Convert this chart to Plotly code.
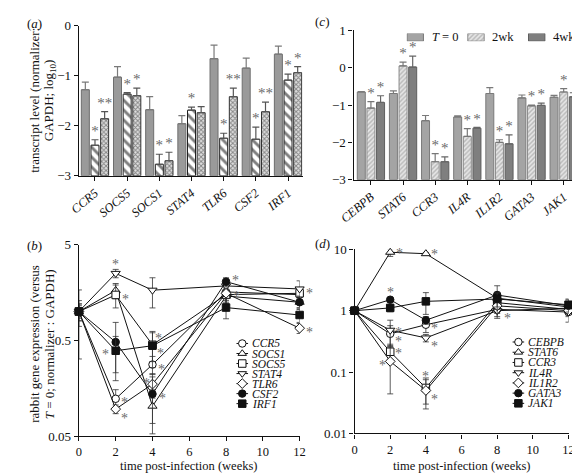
import math
import plotly.graph_objects as go

FONT = "Liberation Serif"
INK = "#111111"
STAR_C = "#6a6a6a"

# ---------------- panel (a) data ----------------
GENES_A = ["CCR5", "SOCS5", "SOCS1", "STAT4", "TLR6", "CSF2", "IRF1"]
A_T0 = [-1.28, -1.03, -1.68, -1.96, -0.66, -0.85, -0.57]
A_T0_ERR = [0.15, 0.21, 0.26, 0.16, 0.27, 0.20, 0.16]
A_2WK = [-2.39, -1.37, -2.77, -1.69, -2.25, -2.27, -1.09]
A_2WK_ERR = [0.11, 0.03, 0.20, 0.06, 0.10, 0.24, 0.12]
A_4WK = [-1.86, -1.40, -2.70, -1.74, -1.42, -1.72, -0.94]
A_4WK_ERR = [0.14, 0.15, 0.17, 0.12, 0.17, 0.19, 0.12]
A_2WK_STARS = ["*", "*", "*", "*", "*", "*", "*"]
A_4WK_STARS = ["**", "*", "*", "", "**", "**", "*"]

# ---------------- panel (c) data ----------------
GENES_C = ["CEBPB", "STAT6", "CCR3", "IL4R", "IL1R2", "GATA3", "JAK1"]
C_T0 = [-0.65, -0.69, -1.42, -1.32, -0.69, -0.81, -0.79]
C_T0_ERR = [0.01, 0.07, 0.14, 0.03, 0.16, 0.08, 0.05]
C_2WK = [-1.08, 0.05, -2.52, -1.84, -2.00, -1.02, -0.65]
C_2WK_ERR = [0.17, 0.10, 0.22, 0.21, 0.07, 0.02, 0.09]
C_4WK = [-0.93, 0.02, -2.52, -1.62, -2.04, -1.01, -0.78]
C_4WK_ERR = [0.18, 0.29, 0.13, 0.02, 0.24, 0.06, 0.11]
C_2WK_STARS = ["*", "*", "*", "*", "*", "*", "*"]
C_4WK_STARS = ["*", "*", "*", "*", "*", "*", ""]
C_LEGEND = ["<i>T</i> = 0", "2wk", "4wk"]

# ---------------- panel (b) data ----------------
WEEKS = [0, 2, 4, 8, 12]
B_GENES = ["CCR5", "SOCS1", "SOCS5", "STAT4", "TLR6", "CSF2", "IRF1"]
B_CCR5 = [1, 0.123, 0.28, 1.60, 1.50]
B_SOCS1 = [1, 1.66, 0.103, 1.45, 1.25]
B_SOCS5 = [1, 1.49, 0.45, 1.50, 1.55]
B_STAT4 = [1, 2.50, 1.67, 1.85, 1.72]
B_TLR6 = [1, 0.096, 0.175, 1.55, 0.67]
B_CSF2 = [1, 0.48, 0.138, 2.05, 1.25]
B_IRF1 = [1, 0.39, 0.44, 1.10, 0.92]
B_CCR5_ERR = [0.30, 0.03, 0.06, 0.30, 0.20]
B_SOCS1_ERR = [0.15, 0.30, 0.05, 0.25, 0.15]
B_SOCS5_ERR = [0.20, 0.40, 0.15, 0.30, 0.20]
B_STAT4_ERR = [0.10, 0.25, 0.58, 0.20, 0.37]
B_TLR6_ERR = [0.10, 0.01, 0.05, 0.30, 0.08]
B_CSF2_ERR = [0.68, 0.29, 0.07, 0.20, 0.20]
B_IRF1_ERR = [0.20, 0.16, 0.18, 0.26, 0.15]

# ---------------- panel (d) data ----------------
D_GENES = ["CEBPB", "STAT6", "CCR3", "IL4R", "IL1R2", "GATA3", "JAK1"]
D_CEBPB = [1, 0.42, 0.59, 1.05, 0.95]
D_STAT6 = [1, 8.97, 8.50, 1.60, 1.15]
D_CCR3 = [1, 0.214, 0.055, 1.35, 1.05]
D_IL4R = [1, 0.48, 0.36, 1.00, 1.10]
D_IL1R2 = [1, 0.149, 0.050, 1.20, 1.00]
D_GATA3 = [1, 1.51, 0.70, 1.80, 1.20]
D_JAK1 = [1, 1.11, 1.42, 1.55, 1.25]
D_CEBPB_ERR = [0.05, 0.15, 0.15, 0.30, 0.30]
D_STAT6_ERR = [0.05, 1.30, 0.40, 0.40, 0.25]
D_CCR3_ERR = [0.05, 0.07, 0.025, 0.30, 0.20]
D_IL4R_ERR = [0.05, 0.22, 0.05, 0.20, 0.20]
D_IL1R2_ERR = [0.05, 0.105, 0.025, 0.30, 0.20]
D_GATA3_ERR = [0.05, 0.10, 0.10, 0.75, 0.30]
D_JAK1_ERR = [0.05, 0.15, 0.55, 0.40, 0.30]

# significance markers: (series index, time index, x shift px, y shift px)
B_STARS = [(3, 1, 0, 11), (2, 1, 10, -3), (6, 1, -10, -2), (0, 1, 9, -2), (4, 1, 9, -7),
           (2, 2, 6, 8), (6, 2, 8, -6), (0, 2, 9, -3), (4, 2, -6, 3), (5, 2, 10, -3),
           (5, 3, 9, 3), (1, 3, 10, 2), (2, 4, 10, 2), (4, 4, 10, -2)]
D_STARS = [(1, 1, 9, 1), (5, 1, 0, 9), (3, 1, 8, 0), (0, 1, 8, -6), (2, 1, 8, 0), (4, 1, -8, -2),
           (1, 2, 9, 1), (0, 2, 9, -2), (3, 2, 9, -7), (2, 2, 0, 13), (4, 2, 9, -7),
           (3, 3, 10, -6)]

B_VALS = [B_CCR5, B_SOCS1, B_SOCS5, B_STAT4, B_TLR6, B_CSF2, B_IRF1]
B_ERRS = [B_CCR5_ERR, B_SOCS1_ERR, B_SOCS5_ERR, B_STAT4_ERR, B_TLR6_ERR, B_CSF2_ERR, B_IRF1_ERR]
D_VALS = [D_CEBPB, D_STAT6, D_CCR3, D_IL4R, D_IL1R2, D_GATA3, D_JAK1]
D_ERRS = [D_CEBPB_ERR, D_STAT6_ERR, D_CCR3_ERR, D_IL4R_ERR, D_IL1R2_ERR, D_GATA3_ERR, D_JAK1_ERR]

SYMBOLS = ["circle", "triangle-up", "square", "triangle-down", "diamond", "circle", "square"]
FILLS = ["white", "white", "white", "white", "white", INK, INK]

fig = go.Figure()

BARGAP = 0.10
BARGROUPGAP = 0.17
SLOT = (1 - BARGAP) / 3
BASE = -3


def add_bar_set(xa, ya, series, errs, markers, err_colors, stars):
    n = len(series[0])
    xs = list(range(n))
    for vals, err, mk, ec in zip(series, errs, markers, err_colors):
        fig.add_trace(go.Bar(
            x=xs, y=[v - BASE for v in vals], base=BASE, marker=mk,
            error_y=dict(type="data", array=err, arrayminus=[0] * n, symmetric=False,
                         color=ec, thickness=1.2, width=3.5),
            xaxis=xa, yaxis=ya, showlegend=False, hoverinfo="skip"))
    for k, st in stars:
        keep = [i for i in xs if st[i]]
        fig.add_trace(go.Scatter(
            x=[i + (k - 1) * SLOT for i in keep],
            y=[series[k][i] + errs[k][i] for i in keep],
            text=[st[i] for i in keep], mode="text", textposition="top center",
            textfont=dict(family=FONT, size=15, color=STAR_C),
            xaxis=xa, yaxis=ya, showlegend=False, cliponaxis=False, hoverinfo="skip"))


# panel (a)
add_bar_set("x", "y", [A_T0, A_2WK, A_4WK], [A_T0_ERR, A_2WK_ERR, A_4WK_ERR],
            [dict(color="#9a9a9a", line=dict(color="#6e6e6e", width=1)),
             dict(color="white", line=dict(color="#222", width=1),
                  pattern=dict(shape="\\", fgcolor="#000", bgcolor="white", size=7, solidity=0.42)),
             dict(color="white", line=dict(color="#333", width=1),
                  pattern=dict(shape="x", fgcolor="#2a2a2a", bgcolor="#e0e0e0", size=3.2, solidity=0.5))],
            ["#7a7a7a", "#555", "#555"],
            [(1, A_2WK_STARS), (2, A_4WK_STARS)])

# panel (c)
C_MARKERS = [dict(color="#a4a4a4", line=dict(color="#7a7a7a", width=1)),
             dict(color="#dcdcdc", line=dict(color="#8a8a8a", width=1),
                  pattern=dict(shape="/", fgcolor="#8c8c8c", bgcolor="#e6e6e6", size=3.2, solidity=0.45)),
             dict(color="#7f7f7f", line=dict(color="#5e5e5e", width=1))]
add_bar_set("x3", "y3", [C_T0, C_2WK, C_4WK], [C_T0_ERR, C_2WK_ERR, C_4WK_ERR],
            C_MARKERS, ["#7a7a7a", "#777", "#666"],
            [(1, C_2WK_STARS), (2, C_4WK_STARS)])

# panel (c) legend: swatches on a small helper axis
LEG_C_STEP = 63.0
for i, (lab, mk) in enumerate(zip(C_LEGEND, C_MARKERS)):
    fig.add_trace(go.Bar(x=[9 + i * LEG_C_STEP], y=[1], base=0, width=17, offset=-8.5,
                         marker=mk, xaxis="x7", yaxis="y7", showlegend=False, hoverinfo="skip"))
    fig.add_annotation(x=24 + i * LEG_C_STEP, y=0.5, xref="x7", yref="y7", text=lab,
                       showarrow=False, xanchor="left", yanchor="middle",
                       font=dict(family=FONT, size=12.5, color=INK))


def add_lines(xa, ya, vals_list, errs_list, stars):
    for vals, errs, sym, fill in zip(vals_list, errs_list, SYMBOLS, FILLS):
        fig.add_trace(go.Scatter(
            x=WEEKS, y=vals, mode="lines+markers",
            line=dict(color=INK, width=1),
            marker=dict(symbol=sym, size=7.5 if "triangle" not in sym else 8, color=fill,
                        line=dict(color=INK, width=1)),
            error_y=dict(type="data", array=errs, color="#333", thickness=0.8, width=3),
            xaxis=xa, yaxis=ya, showlegend=False, cliponaxis=False, hoverinfo="skip"))
    for s, t, dx, dy in stars:
        fig.add_annotation(x=WEEKS[t], y=math.log10(vals_list[s][t]), xref=xa, yref=ya,
                           text="*", showarrow=False, xshift=dx, yshift=dy - 2,
                           font=dict(family=FONT, size=14, color=STAR_C))


add_lines("x2", "y2", B_VALS, B_ERRS, B_STARS)
add_lines("x4", "y4", D_VALS, D_ERRS, D_STARS)


def add_line_legend(xa, ya, names):
    lx, ly = [], []
    for i in range(len(names)):
        lx += [-6, 6, None]
        ly += [i, i, None]
    fig.add_trace(go.Scatter(x=lx, y=ly, mode="lines", line=dict(color=INK, width=1),
                             xaxis=xa, yaxis=ya, showlegend=False, hoverinfo="skip"))
    fig.add_trace(go.Scatter(x=[0] * len(names), y=list(range(len(names))), mode="markers",
                             marker=dict(symbol=SYMBOLS, color=FILLS, size=7.5,
                                         line=dict(color=INK, width=1)),
                             xaxis=xa, yaxis=ya, showlegend=False, hoverinfo="skip"))
    for i, nm in enumerate(names):
        fig.add_annotation(x=9, y=i, xref=xa, yref=ya, text="<i>%s</i>" % nm, showarrow=False,
                           xanchor="left", yanchor="middle", borderpad=0,
                           font=dict(family=FONT, size=11.5, color=INK))


add_line_legend("x5", "y5", B_GENES)
add_line_legend("x6", "y6", D_GENES)

# ---------------- axes ----------------
tickfont = dict(family=FONT, size=13, color=INK)
axis_common = dict(showline=True, linecolor=INK, linewidth=1.4, ticks="outside", ticklen=4,
                   tickwidth=1.4, tickcolor=INK, showgrid=False, zeroline=False, tickfont=tickfont)


def px_x(a, b):
    return [a / 580, b / 580]


def px_y(top, bottom):
    return [1 - bottom / 475, 1 - top / 475]


fig.update_layout(
    width=580, height=475, margin=dict(l=0, r=0, t=0, b=0),
    paper_bgcolor="white", plot_bgcolor="white",
    barmode="group", bargap=BARGAP, bargroupgap=BARGROUPGAP,
    font=dict(family=FONT, color=INK),
    xaxis=dict(axis_common, domain=px_x(58, 290), range=[-0.5, 6.45], anchor="y",
               tickvals=list(range(7)), ticktext=["<i>%s</i>" % g for g in GENES_A],
               tickangle=-40, tickfont=dict(family=FONT, size=12.5, color=INK)),
    yaxis=dict(axis_common, domain=px_y(11, 166), range=[-3, 0], anchor="x",
               tickvals=[0, -1, -2, -3], ticktext=["0", "−1", "−2", "−3"]),
    xaxis3=dict(axis_common, domain=px_x(343, 577), range=[-0.54, 6.48], anchor="y3",
                tickvals=list(range(7)), ticktext=["<i>%s</i>" % g for g in GENES_C],
                tickangle=-40, tickfont=dict(family=FONT, size=12.5, color=INK)),
    yaxis3=dict(axis_common, domain=px_y(16, 170), range=[-3, 1], anchor="x3",
                tickvals=[1, 0, -1, -2, -3], ticktext=["1", "0", "−1", "−2", "−3"]),
    xaxis2=dict(axis_common, domain=px_x(58, 287), range=[0, 12], anchor="y2",
                tickvals=[0, 2, 4, 6, 8, 10, 12], tickfont=dict(family=FONT, size=12.5, color=INK)),
    yaxis2=dict(axis_common, domain=px_y(237, 435), type="log",
                range=[math.log10(0.05), math.log10(5)], anchor="x2",
                tickvals=[0.05, 0.5, 5], ticktext=["0.05", "0.5", "5"]),
    xaxis4=dict(axis_common, domain=px_x(344, 566), range=[0, 12], anchor="y4",
                tickvals=[0, 2, 4, 6, 8, 10, 12], tickfont=dict(family=FONT, size=12.5, color=INK)),
    yaxis4=dict(axis_common, domain=px_y(242, 432), type="log", range=[-2, 1], anchor="x4",
                tickvals=[0.01, 0.1, 1, 10], ticktext=["0.01", "0.1", "1", "10"]),
    xaxis5=dict(domain=px_x(219, 290), range=[-8.5, 62.5], visible=False, anchor="y5"),
    yaxis5=dict(domain=px_y(334, 406.5), range=[6.5, -0.5], visible=False, anchor="x5"),
    xaxis6=dict(domain=px_x(505, 577), range=[-9, 63], visible=False, anchor="y6"),
    yaxis6=dict(domain=px_y(332.4, 406.3), range=[6.5, -0.5], visible=False, anchor="x6"),
    xaxis7=dict(domain=px_x(398, 573), range=[0, 175], visible=False, anchor="y7"),
    yaxis7=dict(domain=px_y(19, 27), range=[0, 1], visible=False, anchor="x7"),
)

# ---------------- titles & panel labels ----------------
def ann(x, y, text, size=13, angle=0, xanchor="center", yanchor="middle"):
    fig.add_annotation(x=x / 580, y=1 - y / 475, xref="paper", yref="paper", text=text,
                       showarrow=False, textangle=angle, xanchor=xanchor, yanchor=yanchor,
                       font=dict(family=FONT, size=size, color=INK))


ann(12, 88, "transcript level (normalizer:", 13, -90)
ann(27, 88, "GAPDH; log<sub>10</sub>)", 13, -90)
ann(12, 340, "rabbit gene expression (versus", 13, -90)
ann(27, 340, "<i>T</i> = 0; normalizer : GAPDH)", 13, -90)
ann(172, 466, "time post-infection (weeks)", 12.5)
ann(455, 466, "time post-infection (weeks)", 12.5)
ann(2, 9, "(<i>a</i>)", 13, xanchor="left")
ann(2, 238, "(<i>b</i>)", 13, xanchor="left")
ann(301, 7, "(<i>c</i>)", 13, xanchor="left")
ann(301, 236, "(<i>d</i>)", 13, xanchor="left")

fig.write_html("out.html")
